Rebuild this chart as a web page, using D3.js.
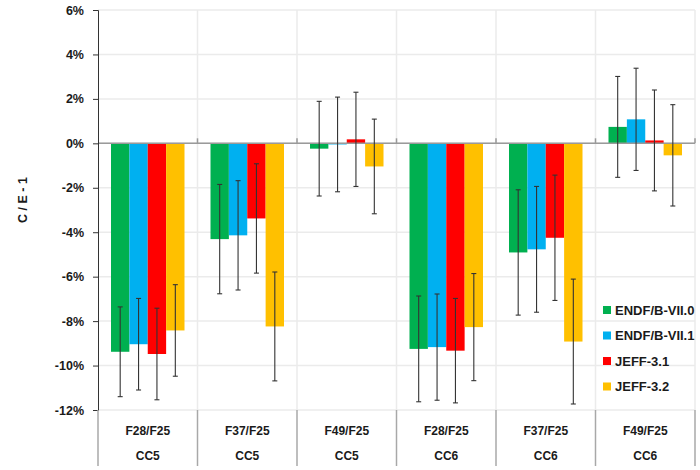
<!DOCTYPE html>
<html>
<head>
<meta charset="utf-8">
<script src="https://cdn.jsdelivr.net/npm/d3@7"></script>
<style>
  body { margin: 0; background: #fff; }
  #chart { width: 700px; height: 470px; }
  text { font-family: "Liberation Sans", Arial, sans-serif; font-weight: bold; fill: #1a1a1a; }
</style>
</head>
<body>
<div id="chart"></div>
<script>
// ratios and core labels
var ratios = ['F28/F25', 'F37/F25', 'F49/F25', 'F28/F25', 'F37/F25', 'F49/F25'];
var cores = ['CC5', 'CC5', 'CC5', 'CC6', 'CC6', 'CC6'];
var libraries = ['ENDF/B-VII.0', 'ENDF/B-VII.1', 'JEFF-3.1', 'JEFF-3.2'];
var colours = ['#00B050', '#00B0F0', '#FF0000', '#FFC000'];

// C/E-1 in %, one array per library
var endf70 = [-9.38, -4.31, -0.24, -9.25, -4.91, 0.74];
var endf71 = [-9.04, -4.14, -0.05, -9.17, -4.77, 1.08];
var jeff31 = [-9.48, -3.38, 0.18, -9.33, -4.25, 0.13];
var jeff32 = [-8.42, -8.24, -1.04, -8.27, -8.92, -0.54];

// uncertainties in %
var err70 = [2.02, 2.46, 2.13, 2.38, 2.82, 2.27];
var err71 = [2.06, 2.46, 2.13, 2.39, 2.83, 2.30];
var err31 = [2.06, 2.46, 2.12, 2.35, 2.82, 2.27];
var err32 = [2.06, 2.45, 2.13, 2.41, 2.81, 2.28];

var yTicks = [-12, -10, -8, -6, -4, -2, 0, 2, 4, 6];

var values = [endf70, endf71, jeff31, jeff32];
var errors = [err70, err71, err31, err32];

var width = 700, height = 470;
var margin = { top: 10, bottom: 60, left: 98, right: 5 };

var svg = d3.select('#chart')
    .append('svg')
    .attr('width', width)
    .attr('height', height);

var plotW = width - margin.left - margin.right;
var plotH = height - margin.top - margin.bottom;

var g = svg.append('g')
    .attr('transform', 'translate(' + margin.left + ',' + margin.top + ')');

var x0 = d3.scaleBand()
    .domain(d3.range(ratios.length))
    .range([0, plotW]);

var x1 = d3.scaleBand()
    .domain(libraries)
    .range([13, x0.bandwidth() - 13]);

var y = d3.scaleLinear()
    .domain([-12, 6])
    .range([plotH, 0]);

// grid
g.append('g')
    .selectAll('line')
    .data(yTicks)
    .enter()
    .append('line')
    .attr('x1', 0)
    .attr('x2', plotW)
    .attr('y1', function (d) { return y(d); })
    .attr('y2', function (d) { return y(d); })
    .attr('stroke', '#ebebeb')
    .attr('stroke-width', 1.5);

g.append('g')
    .selectAll('line')
    .data(d3.range(1, ratios.length + 1))
    .enter()
    .append('line')
    .attr('x1', function (d) { return d * x0.bandwidth(); })
    .attr('x2', function (d) { return d * x0.bandwidth(); })
    .attr('y1', 0)
    .attr('y2', plotH)
    .attr('stroke', '#ebebeb')
    .attr('stroke-width', 1.5);

// bars
var rows = [];
ratios.forEach(function (r, i) {
    libraries.forEach(function (lib, j) {
        rows.push({ i: i, lib: lib, v: values[j][i], e: errors[j][i], c: colours[j] });
    });
});

g.selectAll('.bar')
    .data(rows)
    .enter()
    .append('rect')
    .attr('class', 'bar')
    .attr('x', function (d) { return x0(d.i) + x1(d.lib); })
    .attr('width', x1.bandwidth())
    .attr('y', function (d) { return y(Math.max(0, d.v)); })
    .attr('height', function (d) { return Math.abs(y(d.v) - y(0)); })
    .attr('fill', function (d) { return d.c; });

// zero axis with small ticks at the group boundaries
g.append('line')
    .attr('x1', 0).attr('x2', plotW)
    .attr('y1', y(0)).attr('y2', y(0))
    .attr('stroke', '#9a9a9a')
    .attr('stroke-width', 1.5);

g.append('g')
    .selectAll('line')
    .data(d3.range(1, ratios.length + 1))
    .enter()
    .append('line')
    .attr('x1', function (d) { return d * x0.bandwidth(); })
    .attr('x2', function (d) { return d * x0.bandwidth(); })
    .attr('y1', y(0) - 5)
    .attr('y2', y(0))
    .attr('stroke', '#9a9a9a')
    .attr('stroke-width', 1.5);

// error bars
var eb = g.selectAll('.err')
    .data(rows)
    .enter()
    .append('g')
    .attr('class', 'err')
    .attr('stroke', '#333')
    .attr('stroke-width', 1.1);

eb.append('line')
    .attr('x1', function (d) { return x0(d.i) + x1(d.lib) + x1.bandwidth() / 2; })
    .attr('x2', function (d) { return x0(d.i) + x1(d.lib) + x1.bandwidth() / 2; })
    .attr('y1', function (d) { return y(d.v + d.e); })
    .attr('y2', function (d) { return y(d.v - d.e); });

[1, -1].forEach(function (s) {
    eb.append('line')
        .attr('x1', function (d) { return x0(d.i) + x1(d.lib) + x1.bandwidth() / 2 - 2.5; })
        .attr('x2', function (d) { return x0(d.i) + x1(d.lib) + x1.bandwidth() / 2 + 2.5; })
        .attr('y1', function (d) { return y(d.v + s * d.e); })
        .attr('y2', function (d) { return y(d.v + s * d.e); });
});

// y axis
var yAxis = g.append('g')
    .call(d3.axisLeft(y).tickValues(yTicks).tickSize(5).tickPadding(9)
        .tickFormat(function (d) { return d + '%'; }));
yAxis.select('.domain').attr('stroke', '#333');
yAxis.selectAll('.tick line').attr('stroke', '#333');
yAxis.selectAll('text')
    .style('font-size', '12.5px')
    .style('font-family', '"Liberation Sans", Arial, sans-serif')
    .style('font-weight', 'bold')
    .attr('fill', '#1a1a1a');

g.append('text')
    .attr('transform', 'translate(' + (-71) + ',' + (plotH / 2 - 10) + ') rotate(-90)')
    .attr('text-anchor', 'middle')
    .style('font-size', '12.5px')
    .text('C / E - 1');

// category table below the plot
var table = g.append('g')
    .attr('transform', 'translate(0,' + plotH + ')');

table.selectAll('line')
    .data(d3.range(0, ratios.length + 1))
    .enter()
    .append('line')
    .attr('x1', function (d) { return d * x0.bandwidth(); })
    .attr('x2', function (d) { return d * x0.bandwidth(); })
    .attr('y1', 0)
    .attr('y2', 56)
    .attr('stroke', '#a8a8a8')
    .attr('stroke-width', 1.5);

table.selectAll('.ratio')
    .data(ratios)
    .enter()
    .append('text')
    .attr('class', 'ratio')
    .attr('x', function (d, i) { return x0(i) + x0.bandwidth() / 2; })
    .attr('y', 25)
    .attr('text-anchor', 'middle')
    .style('font-size', '12px')
    .text(function (d) { return d; });

table.selectAll('.core')
    .data(cores)
    .enter()
    .append('text')
    .attr('class', 'core')
    .attr('x', function (d, i) { return x0(i) + x0.bandwidth() / 2; })
    .attr('y', 50)
    .attr('text-anchor', 'middle')
    .style('font-size', '12px')
    .text(function (d) { return d; });

// legend
var legend = svg.append('g')
    .attr('transform', 'translate(603,310)');

var items = legend.selectAll('g')
    .data(libraries)
    .enter()
    .append('g')
    .attr('transform', function (d, i) { return 'translate(0,' + i * 25.5 + ')'; });

items.append('rect')
    .attr('x', 0).attr('y', -4)
    .attr('width', 8).attr('height', 8)
    .attr('fill', function (d, i) { return colours[i]; });

items.append('text')
    .attr('x', 12)
    .attr('y', 4.5)
    .style('font-size', '13px')
    .text(function (d) { return d; });
</script>
</body>
</html>
